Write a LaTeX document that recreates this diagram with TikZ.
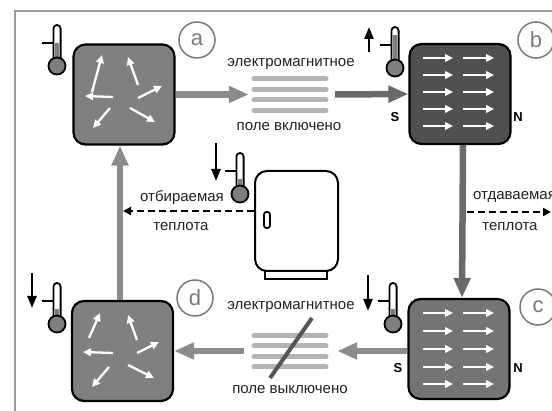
\documentclass[tikz,border=0pt]{standalone}
\usepackage{fontspec}
\setmainfont{Liberation Sans}
\usetikzlibrary{arrows.meta}

\definecolor{framegray}{HTML}{9A9A9A}
\definecolor{boxlight}{HTML}{808080}
\definecolor{boxdark}{HTML}{505050}
\definecolor{boxmid}{HTML}{747474}
\definecolor{flowlight}{HTML}{8C8C8C}
\definecolor{flowdark}{HTML}{6A6A6A}
\definecolor{fieldline}{HTML}{B4B4B4}
\definecolor{slashgray}{HTML}{555555}
\definecolor{mercury}{HTML}{7E7E7E}
\definecolor{taggray}{HTML}{7A7A7A}
\definecolor{ink}{HTML}{222222}

% thermometer: #1 x of the tube, #2 top of the tube, #3 depth of the empty part
\newcommand\thermometer[3]{%
  \fill[mercury] (#1-2.3,#2+#3) rectangle (#1+2.3,#2+36);
  \draw[line width=1.8pt] (#1-3.6,#2+34) -- (#1-3.6,#2+3.6)
     arc[start angle=180,end angle=0,radius=3.6pt] -- (#1+3.6,#2+34);
  \draw[line width=1.8pt, fill=mercury] (#1,#2+41) circle[radius=8.5pt];
  \draw[line width=1.8pt] (#1-15,#2+18) -- (#1-3.6,#2+18);
}

\tikzset{
  mbox/.style={draw=black, line width=2.2pt, rounded corners=12pt,
    minimum width=101pt, minimum height=100pt, inner sep=0pt},
  flowarrow/.style={line width=6.5pt, draw=flowlight,
    -{Triangle[length=20pt,width=16pt]}},
  spin/.style={white, line width=2.3pt, -{Triangle[length=8pt,width=7.5pt]}},
  fieldbar/.style={draw=fieldline, line width=5pt, line cap=round},
  tag/.style={circle, draw=taggray, line width=1.5pt, minimum size=36pt,
    inner sep=0pt, text=taggray, font=\fontsize{22}{22}\selectfont},
  lbl/.style={inner sep=0pt, text=ink, font=\fontsize{15}{15}\selectfont},
  heat/.style={line width=2pt, dash pattern=on 7pt off 4pt,
    -{Triangle[length=8pt,width=8pt]}},
  pole/.style={inner sep=0pt, font=\bfseries\fontsize{13}{13}\selectfont},
  trend/.style={line width=2.5pt, -{Triangle[length=12pt,width=9pt]}},
  field/.style={minimum width=82pt, minimum height=40pt, inner sep=0pt},
}

\begin{document}
\begin{tikzpicture}[x=1pt,y=-1pt]
\useasboundingbox (0,0) rectangle (552,411);

% frame
\draw[framegray, line width=1.2pt] (15,411) -- (15,11) -- (552,11);

% the four stages of the cycle
\node[mbox, fill=boxlight] (A) at (124,94.5) {};
\node[mbox, fill=boxdark]  (B) at (460,94) {};
\node[mbox, fill=boxmid]   (C) at (459,349) {};
\node[mbox, fill=boxlight] (D) at (122.5,351) {};

% stage tags
\node[tag] (ta) at (197,40) {a};
\node[tag] (tb) at (536,40) {b};
\node[tag] (tc) at (538,307) {c};
\node[tag] (td) at (195,298) {d};

% disordered moments
\draw[spin] (92,92) -- (102,55);
\draw[spin] (138,85) -- (128,57);
\draw[spin] (113,97) -- (85,96);
\draw[spin] (138,98) -- (162,86);
\draw[spin] (110,108) -- (93,128);
\draw[spin] (130,108) -- (155,122);

\draw[spin] (89,338) -- (100,313);
\draw[spin] (137,340) -- (128,315);
\draw[spin] (113,353) -- (83,352);
\draw[spin] (137,353) -- (159,342);
\draw[spin] (109,367) -- (92,387);
\draw[spin] (128,365) -- (154,378);

% aligned moments
\foreach \y in {58,75,92,109,126} {
  \draw[spin] (423,\y) -- (453,\y);
  \draw[spin] (463,\y) -- (494,\y);
}
\foreach \y in {313,331,349,367,384} {
  \draw[spin] (423,\y) -- (453,\y);
  \draw[spin] (463,\y) -- (494,\y);
}

% poles
\node[pole] (sb) at (395,117) {S};
\node[pole] (nb) at (518,117) {N};
\node[pole] (sc) at (398,368) {S};
\node[pole] (nc) at (518,368) {N};

% field on
\node[field] (fon) at (290,94.5) {};
\foreach \y in {79,89.5,100,110.5}
  \draw[fieldbar] (254,\y) -- (326,\y);
\node[lbl] (fon1) at (291,64) {электромагнитное};
\node[lbl] (fon2) at (289,127) {поле включено};

% field off
\node[field] (foff) at (290,351) {};
\foreach \y in {335.5,346,356.5,367}
  \draw[fieldbar] (254,\y) -- (326,\y);
\draw[slashgray, line width=4pt] (270,378) -- (312,318);
\node[lbl] (foff1) at (291,307) {электромагнитное};
\node[lbl] (foff2) at (290,390) {поле выключено};

% cycle arrows
\draw[flowarrow] (A.east) -- (fon.west);
\draw[flowarrow, draw=flowdark] ([xshift=4pt]fon.east) -- (B.west);
\draw[flowarrow, draw=flowdark] ([xshift=3pt]B.south) -- ([xshift=3pt]C.north);
\draw[flowarrow] (C.west |- foff.east) -- ([xshift=6pt]foff.east);
\draw[flowarrow] ([xshift=-5pt]foff.west) -- (D.east);
\draw[flowarrow] ([xshift=-2.5pt]D.north) -- ([xshift=-4pt]A.south);

% refrigerator
\node[draw, line width=2pt, rounded corners=12pt, minimum width=83pt,
  minimum height=100pt, inner sep=0pt] (F) at (296.5,221) {};
\draw[line width=2pt] (265,271) rectangle (327,279);
\draw[line width=1.8pt, rounded corners=2.5pt] (264,212) rectangle (270,228);

% heat flows
\coordinate (hl) at (123,211);
\coordinate (hr0) at (467,212);
\coordinate (hr1) at (551,212);
\draw[heat] ([yshift=10pt]F.west) -- (hl);
\draw[heat] (hr0) -- (hr1);
\node[lbl] (h1) at (182,198) {отбираемая};
\node[lbl] (h2) at (181,227) {теплота};
\node[lbl, anchor=west] (h3) at (473,197) {отдаваемая};
\node[lbl] (h4) at (510,227) {теплота};

% thermometers and temperature trends
\thermometer{57}{25}{18}
\thermometer{395}{27}{8}
\thermometer{240}{153}{26}
\thermometer{393}{283}{26}
\thermometer{57}{283}{26}
\draw[trend] (369,52) -- (369,27);
\draw[trend] (216,143) -- (216,181);
\draw[trend] (368,275) -- (368,311);
\draw[trend] (32,273) -- (32,308);
\end{tikzpicture}
\end{document}
